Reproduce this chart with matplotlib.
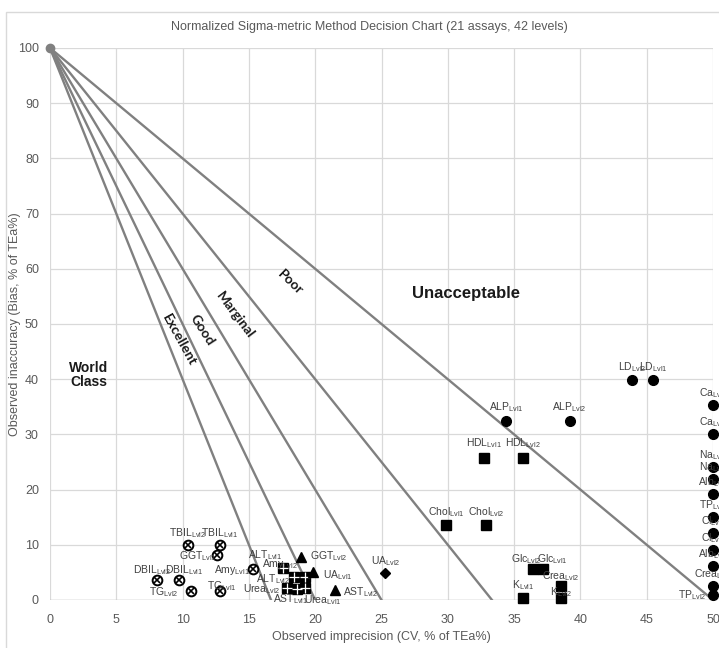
import matplotlib.pyplot as plt
from matplotlib.patches import Rectangle

plt.rcParams['font.family'] = ['Liberation Sans', 'DejaVu Sans']
plt.rcParams['mathtext.fontset'] = 'custom'
plt.rcParams['mathtext.rm'] = 'Liberation Sans'
plt.rcParams['mathtext.it'] = 'Liberation Sans'

# sigma boundaries (line from 0,100 to 100/sigma,0)
sigma_levels = [6, 5, 4, 3, 2]

# world class (>6 sigma)
wc_names = ['DBIL', 'DBIL', 'TG', 'TBIL', 'TBIL', 'GGT', 'TG', 'Amy']
wc_lvls = ['Lvl2', 'Lvl1', 'Lvl2', 'Lvl2', 'Lvl1', 'Lvl1', 'Lvl1', 'Lvl1']
wc_cv = [8.1, 9.7, 10.6, 10.4, 12.8, 12.6, 12.8, 15.3]
wc_bias = [3.6, 3.6, 1.6, 10.0, 10.0, 8.2, 1.6, 5.6]

# excellent (5-6 sigma)
ex_names = ['Amy', 'ALT', 'ALT', 'Urea', 'AST', 'Urea']
ex_lvls = ['Lvl2', 'Lvl1', 'Lvl2', 'Lvl2', 'Lvl1', 'Lvl1']
ex_cv = [17.6, 19.2, 18.4, 17.9, 18.6, 19.2]
ex_bias = [5.8, 4.2, 4.2, 2.2, 2.0, 2.2]

# good (4-5 sigma)
gd_names = ['GGT', 'UA', 'AST']
gd_lvls = ['Lvl2', 'Lvl1', 'Lvl2']
gd_cv = [18.9, 19.8, 21.5]
gd_bias = [7.8, 5.1, 1.8]

# marginal (3-4 sigma)
mg_names = ['UA']
mg_lvls = ['Lvl2']
mg_cv = [25.3]
mg_bias = [4.9]

# poor (2-3 sigma)
pr_names = ['HDL', 'HDL', 'Chol', 'Chol', 'Glc', 'Glc', 'Crea', 'K', 'K']
pr_lvls = ['Lvl1', 'Lvl2', 'Lvl1', 'Lvl2', 'Lvl2', 'Lvl1', 'Lvl2', 'Lvl1', 'Lvl2']
pr_cv = [32.7, 35.7, 29.9, 32.9, 36.4, 37.2, 38.5, 35.7, 38.5]
pr_bias = [25.7, 25.7, 13.6, 13.6, 5.6, 5.6, 2.5, 0.3, 0.3]

# unacceptable (<2 sigma)
un_names = ['ALP', 'ALP', 'LD', 'LD', 'Ca', 'Ca', 'Na', 'Na', 'Alb', 'TP', 'Cl', 'Cl', 'Alb', 'Crea', 'TP']
un_lvls = ['Lvl1', 'Lvl2', 'Lvl2', 'Lvl1', 'Lvl1', 'Lvl2', 'Lvl1', 'Lvl2', 'Lvl1', 'Lvl1', 'Lvl1', 'Lvl2', 'Lvl2', 'Lvl1', 'Lvl2']
un_cv = [34.4, 39.2, 43.9, 45.5, 50, 50, 50, 50, 50, 50, 50, 50, 50, 50, 50]
un_bias = [32.4, 32.4, 39.9, 39.9, 35.3, 30.1, 24.1, 21.9, 19.2, 15.0, 12.1, 9.1, 6.2, 2.5, 0.9]

# label offsets in pixels (dx, dy)
wc_off = [(-5, 10), (5, 10), (-27, -1), (0, 12), (0, 12), (-19, -1), (2, 5), (-21, -1)]
ex_off = [(-3, 4), (-40, 22), (-21, -2), (-26, -1), (-6, -10), (18, -12)]
gd_off = [(28, 1), (25, -3), (26, -2)]
mg_off = [(0, 12)]
pr_off = [(0, 15), (0, 15), (0, 13), (0, 13), (-6, 10), (9, 10), (0, 10), (0, 13), (0, 6)]
un_off = [(0, 14), (0, 14), (0, 13), (0, 13)] + [(0, 12)] * 10 + [(-21, 0)]

fig = plt.figure(figsize=(7.19, 6.48), dpi=100)
ax = fig.add_axes([50 / 719, 48 / 648, 663 / 719, 552 / 648])

fig.add_artist(Rectangle((6 / 719, -0.1), 2, (636 / 648) + 0.1, transform=fig.transFigure,
                         fill=False, ec='#d9d9d9', lw=1))

ax.set_xlim(0, 50)
ax.set_ylim(0, 100)
ax.set_xticks(range(0, 51, 5))
ax.set_yticks(range(0, 101, 10))
ax.grid(True, color='#d9d9d9', lw=0.9)
ax.set_axisbelow(True)
for s in ax.spines.values():
    s.set_visible(False)
ax.axhline(0, color='#bfbfbf', lw=1, zorder=1)
ax.tick_params(length=0, labelsize=9, colors='#595959')
ax.tick_params(axis='x', pad=10)
ax.tick_params(axis='y', pad=8)

for s in sigma_levels:
    ax.plot([0, 100 / s], [100, 0], color='#808080', lw=1.7, zorder=2)
ax.plot([0], [100], 'o', color='#808080', ms=6, clip_on=False, zorder=3)


def labels(names, lvls, cv, bias, offs):
    for n, l, x, y, o in zip(names, lvls, cv, bias, offs):
        ax.annotate(n + r'$_{\rm ' + l + '}$', (x, y), xytext=o, textcoords='offset pixels',
                    ha='center', va='center', fontsize=7.5, color='#404040',
                    annotation_clip=False, zorder=5)


# world class: circle with x
ax.plot(wc_cv, wc_bias, 'o', ls='none', mfc='white', mec='black', mew=1.4, ms=7, zorder=4, clip_on=False)
ax.plot(wc_cv, wc_bias, 'x', ls='none', color='black', mew=1.2, ms=4, zorder=4, clip_on=False)
labels(wc_names, wc_lvls, wc_cv, wc_bias, wc_off)

# excellent: chequered square
ax.plot(ex_cv, ex_bias, 's', ls='none', color='black', ms=6.5, zorder=4, clip_on=False)
ax.plot(ex_cv, ex_bias, '+', ls='none', color='white', mew=0.9, ms=6.5, zorder=4, clip_on=False)
labels(ex_names, ex_lvls, ex_cv, ex_bias, ex_off)

ax.plot(gd_cv, gd_bias, '^', ls='none', color='black', ms=7, zorder=4, clip_on=False)
labels(gd_names, gd_lvls, gd_cv, gd_bias, gd_off)

ax.plot(mg_cv, mg_bias, 'D', ls='none', color='black', ms=5, zorder=4, clip_on=False)
labels(mg_names, mg_lvls, mg_cv, mg_bias, mg_off)

ax.plot(pr_cv, pr_bias, 's', ls='none', color='black', ms=6.5, zorder=4, clip_on=False)
labels(pr_names, pr_lvls, pr_cv, pr_bias, pr_off)

ax.plot(un_cv, un_bias, 'o', ls='none', color='black', ms=7, zorder=4, clip_on=False)
labels(un_names, un_lvls, un_cv, un_bias, un_off)

# zone names
ax.text(2.94, 40.8, 'World\nClass', ha='center', va='center', fontsize=10,
        fontweight='bold', color='#1a1a1a', linespacing=1.0)
ax.text(31.4, 55.6, 'Unacceptable', ha='center', va='center', fontsize=12,
        fontweight='bold', color='#1a1a1a')
zone_txt = ['Excellent', 'Good', 'Marginal', 'Poor']
zone_pos = [(9.73, 47.1), (11.46, 48.9), (13.95, 51.6), (18.1, 57.6)]
zone_rot = [-61, -57, -53, -44]
for t, (x, y), r in zip(zone_txt, zone_pos, zone_rot):
    ax.text(x, y, t, rotation=r, rotation_mode='anchor', ha='center', va='center',
            fontsize=10, fontweight='bold', family=['Lato', 'DejaVu Sans'], color='#1a1a1a')

ax.set_xlabel('Observed imprecision (CV, % of TEa%)', fontsize=9, color='#595959', labelpad=4)
ax.set_ylabel('Observed inaccuracy (Bias, % of TEa%)', fontsize=9, color='#595959')
ax.yaxis.set_label_coords(-0.043, 0.5)
fig.text(369 / 719, 1 - 27 / 648, 'Normalized Sigma-metric Method Decision Chart (21 assays, 42 levels)',
         ha='center', va='center', fontsize=9, color='#595959')

fig.savefig('out.png', dpi=100)
